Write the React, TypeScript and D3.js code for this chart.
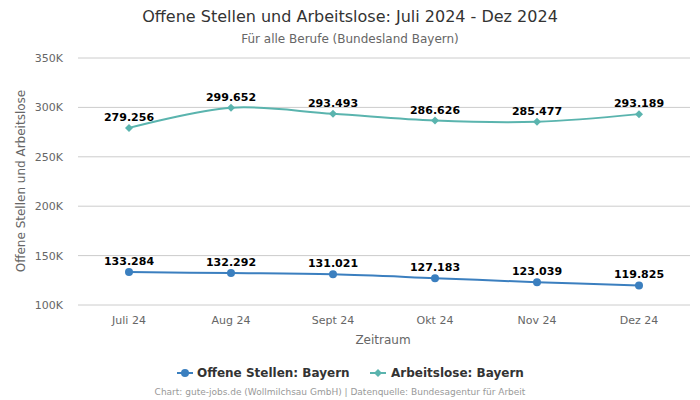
import React from "react";
import * as d3 from "d3";

const categories = ["Juli 24", "Aug 24", "Sept 24", "Okt 24", "Nov 24", "Dez 24"];
const offeneStellen = [133284, 132292, 131021, 127183, 123039, 119825];
const arbeitslose = [279256, 299652, 293493, 286626, 285477, 293189];
const yTicks = [100000, 150000, 200000, 250000, 300000, 350000];

const W = 700, H = 400;
const FONT = "DejaVu Sans, sans-serif";
const BLUE = "#3b7fbf";
const TEAL = "#5ab4ae";

export default function App() {
  const x = d3.scaleBand<string>().domain(categories).range([78, 690]);
  const y = d3.scaleLinear().domain([100000, 350000]).range([305, 58]);
  const cx = (c: string) => (x(c) ?? 0) + x.bandwidth() / 2;
  const line = d3
    .line<number>()
    .x((_, i) => cx(categories[i]))
    .y((d) => y(d))
    .curve(d3.curveCatmullRom.alpha(0.5));
  const fmt = (v: number) => (v / 1000).toFixed(3);

  const series = [
    { name: "Offene Stellen: Bayern", data: offeneStellen, color: BLUE, marker: "circle" },
    { name: "Arbeitslose: Bayern", data: arbeitslose, color: TEAL, marker: "diamond" },
  ];

  const marker = (type: string, px: number, py: number, color: string, key: string) =>
    type === "circle" ? (
      <circle key={key} cx={px} cy={py} r={4} fill={color} />
    ) : (
      <path key={key} d={`M${px},${py - 4}L${px + 4},${py}L${px},${py + 4}L${px - 4},${py}Z`} fill={color} />
    );

  return (
    <svg width={W} height={H} style={{ position: "absolute", left: 0, top: 0, fontFamily: FONT }}>
      <rect width={W} height={H} fill="#fff" />
      <text x={350} y={22} textAnchor="middle" fontSize={16} fill="#333">
        Offene Stellen und Arbeitslose: Juli 2024 - Dez 2024
      </text>
      <text x={350} y={43} textAnchor="middle" fontSize={12} fill="#666">
        Für alle Berufe (Bundesland Bayern)
      </text>
      {yTicks.map((t) => (
        <g key={t}>
          <line x1={78} x2={690} y1={y(t)} y2={y(t)} stroke="#ccc" strokeWidth={1} />
          <text x={63} y={y(t) + 4} textAnchor="end" fontSize={11} fill="#666">
            {t / 1000}K
          </text>
        </g>
      ))}
      {categories.map((c) => (
        <text key={c} x={cx(c)} y={324} textAnchor="middle" fontSize={11} fill="#666">
          {c}
        </text>
      ))}
      <text x={383} y={344} textAnchor="middle" fontSize={12} fill="#666">
        Zeitraum
      </text>
      <text
        transform={`translate(25,181) rotate(-90)`}
        textAnchor="middle"
        fontSize={12}
        fill="#666"
      >
        Offene Stellen und Arbeitslose
      </text>
      {series.map((s) => (
        <g key={s.name}>
          <path d={line(s.data) ?? ""} fill="none" stroke={s.color} strokeWidth={2} />
          {s.data.map((v, i) => marker(s.marker, cx(categories[i]), y(v), s.color, s.name + i))}
          {s.data.map((v, i) => (
            <text
              key={"l" + i}
              x={cx(categories[i])}
              y={y(v) - 7}
              textAnchor="middle"
              fontSize={11}
              fontWeight="bold"
              fill="#000"
            >
              {fmt(v)}
            </text>
          ))}
        </g>
      ))}
      <g>
        <line x1={177} x2={193} y1={373} y2={373} stroke={BLUE} strokeWidth={2} />
        <circle cx={185} cy={373} r={4} fill={BLUE} />
        <text x={197} y={377} fontSize={12} fontWeight="bold" fill="#333">
          Offene Stellen: Bayern
        </text>
        <line x1={370} x2={386} y1={373} y2={373} stroke={TEAL} strokeWidth={2} />
        <path d="M378,369L382,373L378,377L374,373Z" fill={TEAL} />
        <text x={391} y={377} fontSize={12} fontWeight="bold" fill="#333">
          Arbeitslose: Bayern
        </text>
      </g>
      <text x={340} y={395} textAnchor="middle" fontSize={9} fill="#999">
        Chart: gute-jobs.de (Wollmilchsau GmbH) | Datenquelle: Bundesagentur für Arbeit
      </text>
    </svg>
  );
}
